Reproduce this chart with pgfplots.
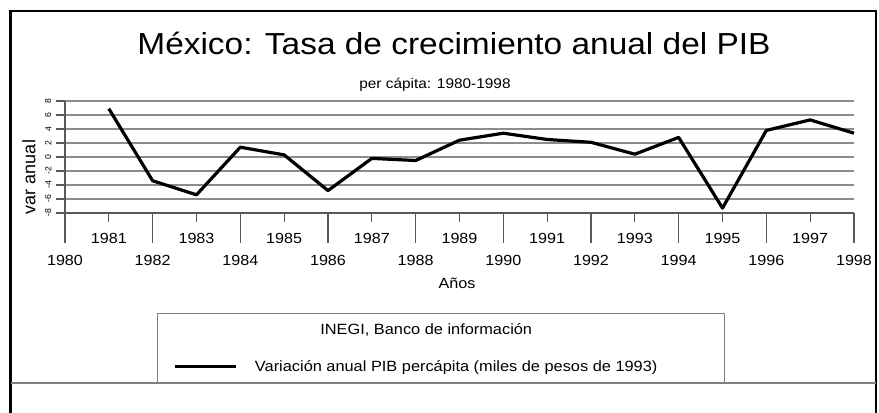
\documentclass[border=0pt]{standalone}
\usepackage{pgfplots}
\pgfplotsset{compat=1.18}
\usepackage{fontspec}
\setmainfont{Liberation Sans}[FakeStretch=1.1]
\newfontfamily\rotfont{Liberation Sans}
\newcommand\sz[1]{\fontsize{#1}{#1}\selectfont}
\begin{document}
\begin{tikzpicture}[x=0.75pt,y=0.75pt]
\useasboundingbox (0,0) rectangle (879,413);
% outer frame
\draw[black, line width=1.6pt] (10.5,0) -- (10.5,402) -- (876,402) -- (876,0);
\draw[black!50, line width=2.2pt] (10.5,30) -- (876,30);
% titles
\node[anchor=base, font=\sz{22.8}] at (454,358) {México: Tasa de crecimiento anual del PIB};
\node[anchor=base, font=\sz{10.5}] at (435,324) {per cápita: 1980-1998};
\node[font=\sz{11}] at (457,130) {Años};
\node[rotate=90, font=\rotfont\sz{13.5}] at (29,236) {var anual};
\begin{axis}[
  at={(48.75pt,150pt)}, anchor=south west,
  scale only axis, width=591.75pt, height=84pt,
  xmin=1980, xmax=1998, ymin=-8, ymax=8,
  axis x line=bottom, axis y line=left,
  axis line style={-, black!65, line width=0.8pt},
  tick align=outside,
  major tick length=6.75pt, minor tick length=22.5pt,
  xtick={1981,1983,...,1997},
  xticklabels={1981,1983,1985,1987,1989,1991,1993,1995,1997},
  minor xtick={1980,1982,...,1998},
  extra x ticks={1980,1982,...,1998},
  extra x tick labels={1980,1982,1984,1986,1988,1990,1992,1994,1996,1998},
  extra x tick style={tick style={draw=none}, xticklabel style={yshift=-16.15pt}},
  xticklabel style={font=\sz{11}, anchor=north, yshift=-5.25pt},
  every tick/.style={black!65, line width=0.8pt},
  ytick={-8,-6,...,8},
  yticklabels={-8,-6,-4,-2,0,2,4,6,8},
  yticklabel style={rotate=90, anchor=south, font=\rotfont\sz{6.5}},
  ymajorgrids,
  major grid style={black!45, line width=1.6pt},
  clip=false,
  legend style={at={(0.1166,-0.893)}, anchor=north west, draw=black!50, line width=1pt,
    font=\sz{11.15}, legend cell align=left, inner xsep=2pt, inner ysep=5.25pt, row sep=14pt},
]
\addlegendimage{empty legend}
\addlegendentry{\hspace*{49pt}INEGI, Banco de información}
\addplot[black, line width=2.4pt, line join=round,
  legend image code/.code={\path[draw=none] (0pt,0pt) -- (69pt,0pt);\draw[black, line width=2.4pt] (11pt,0pt) -- (57pt,0pt);}]
  coordinates {
  (1981,6.9) (1982,-3.4) (1983,-5.4) (1984,1.4) (1985,0.3) (1986,-4.8)
  (1987,-0.2) (1988,-0.5) (1989,2.4) (1990,3.4) (1991,2.5) (1992,2.1)
  (1993,0.4) (1994,2.8) (1995,-7.3) (1996,3.8) (1997,5.3) (1998,3.4)
  };
\addlegendentry{\makebox[348pt][l]{Variación anual PIB percápita (miles de pesos de 1993)}}
\end{axis}
\end{tikzpicture}
\end{document}
